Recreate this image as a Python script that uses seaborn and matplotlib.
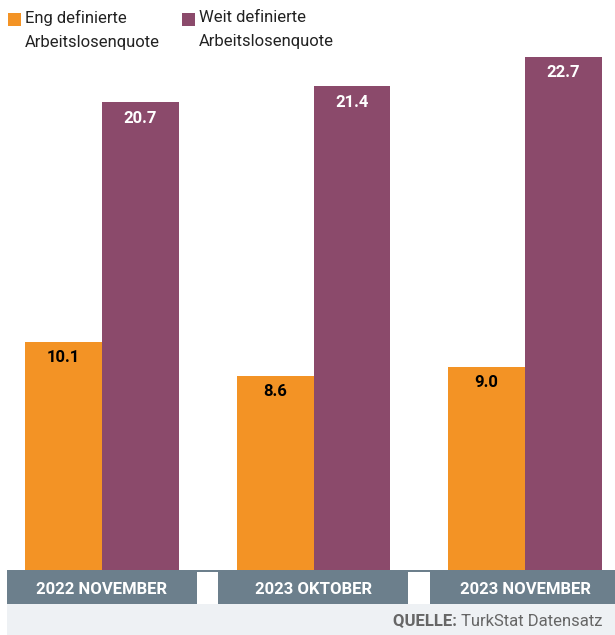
import pandas as pd
import matplotlib.pyplot as plt
import matplotlib.transforms as mtransforms
from matplotlib.patches import Rectangle
import seaborn as sns

# data
periods = ["2022 NOVEMBER", "2023 OKTOBER", "2023 NOVEMBER"]
series = ["Eng definierte\nArbeitslosenquote", "Weit definierte\nArbeitslosenquote"]
eng = [10.1, 8.6, 9.0]
weit = [20.7, 21.4, 22.7]

ORANGE = "#F39325"
PURPLE = "#8B4A6B"
BAND = "#6C7F8C"
LIGHT = "#EEF1F4"
GREY_TXT = "#666666"

W, H = 615, 635


def fx(x):
    return x / W


def fy(y):
    return 1 - y / H


df = pd.DataFrame({
    "period": periods * 2,
    "series": [series[0]] * 3 + [series[1]] * 3,
    "value": eng + weit,
})

sns.set_style("white")
plt.rcParams["font.family"] = ["Roboto", "DejaVu Sans"]

fig = plt.figure(figsize=(W / 100, H / 100), dpi=100)
ax = fig.add_axes([0, 1 - 570 / H, 1, 570 / H])
ax.patch.set_alpha(0)

sns.barplot(data=df, x="period", y="value", hue="series",
            palette=[ORANGE, PURPLE], width=0.728, errorbar=None,
            saturation=1, legend=False, linewidth=0, ax=ax)

ax.set_xlim(-102 / 211.5, (W - 102) / 211.5)
ax.set_ylim(0, 570 / 22.6)
ax.set_axis_off()

# value labels inside the top of each bar
for cont, col in zip(ax.containers, ["black", "white"]):
    for bar in cont:
        ax.annotate(f"{bar.get_height():.1f}",
                    (bar.get_x() + bar.get_width() / 2, bar.get_height()),
                    xytext=(0, -11.5), textcoords="offset points",
                    ha="center", va="center", color=col,
                    fontsize=12, fontweight="bold")

# category band under the bars (behind the axes artists)
fig.add_artist(Rectangle((fx(7), fy(604)), fx(W - 7), 34 / H, zorder=-2,
                         transform=fig.transFigure, color=BAND, lw=0))
for gx0, gx1 in [(197, 218), (408, 430)]:
    fig.add_artist(Rectangle((fx(gx0), fy(604)), fx(gx1 - gx0), 32 / H,
                             zorder=-1, transform=fig.transFigure,
                             color="white", lw=0))
fig.add_artist(Rectangle((fx(7), 0), fx(W - 7), 31 / H, zorder=-2,
                         transform=fig.transFigure, color=LIGHT, lw=0))

blend = mtransforms.blended_transform_factory(ax.transData, fig.transFigure)
for i, p in enumerate(periods):
    ax.text(i, fy(589), p, transform=blend, ha="center", va="center",
            color="white", fontsize=12, fontweight="bold")

# source line
src = fig.text(fx(602), fy(621), "TurkStat Datensatz", ha="right", va="center",
               color=GREY_TXT, fontsize=12)
ax.annotate("QUELLE: ", xy=(0, 0.5), xycoords=src, ha="right", va="center",
            color=GREY_TXT, fontsize=12, fontweight="bold",
            annotation_clip=False)

# legend drawn by hand (square next to first line)
for sx, col, lab in [(8, ORANGE, series[0]), (182, PURPLE, series[1])]:
    fig.add_artist(Rectangle((fx(sx), fy(26)), fx(13), 13 / H,
                             transform=fig.transFigure, color=col, lw=0))
    fig.text(fx(sx + 17), fy(10), lab, ha="left", va="top",
             fontsize=12, color="#222222", linespacing=1.75)

fig.savefig("out.png", dpi=100)
plt.close(fig)
